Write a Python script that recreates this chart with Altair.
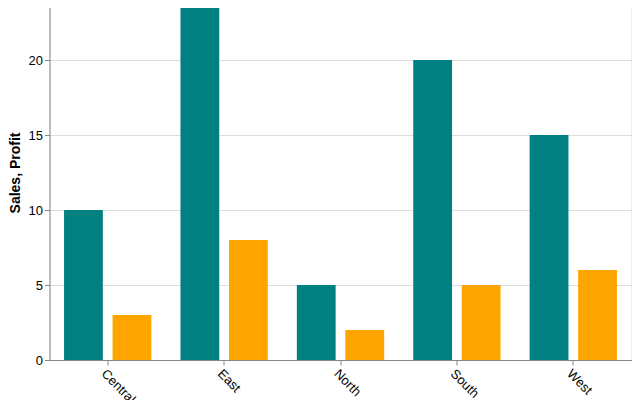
import altair as alt
import pandas as pd

regions = ["Central", "East", "North", "South", "West"]
sales = [10, 25, 5, 20, 15]
profit = [3, 8, 2, 5, 6]
measures = ["Sales", "Profit"]
colors = ["#008080", "#FFA500"]
y_ticks = [0, 5, 10, 15, 20, 25]

df = pd.DataFrame({"Region": regions, "Sales": sales, "Profit": profit})

chart = (
    alt.Chart(df)
    .transform_fold(measures, as_=["Measure", "Value"])
    .mark_bar()
    .encode(
        x=alt.X(
            "Region:N",
            title=None,
            axis=alt.Axis(labelAngle=45, labelFontSize=13),
            scale=alt.Scale(paddingInner=0.25, paddingOuter=0.125),
        ),
        xOffset=alt.XOffset(
            "Measure:N", sort=measures, scale=alt.Scale(paddingInner=0.2, paddingOuter=0)
        ),
        y=alt.Y(
            "Value:Q",
            title="Sales, Profit",
            scale=alt.Scale(domain=[0, 25]),
            axis=alt.Axis(values=y_ticks, labelFontSize=13, titleFontSize=14, titlePadding=6),
        ),
        color=alt.Color(
            "Measure:N",
            sort=measures,
            scale=alt.Scale(domain=measures, range=colors),
            legend=None,
        ),
    )
    .properties(
        width=582,
        height=375,
        autosize=alt.AutoSizeParams(type="none"),
        padding={"left": 41.5, "top": -23, "right": 0.5, "bottom": 80},
    )
)

chart.save("out.html", embed_options={"renderer": "svg", "actions": False})
